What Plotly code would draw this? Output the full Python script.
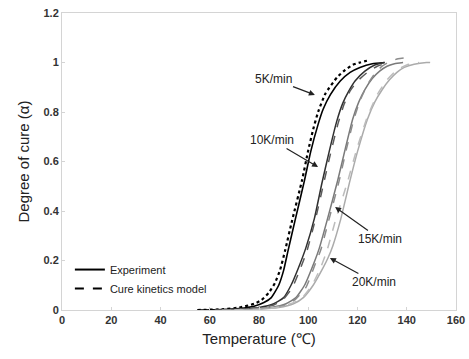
import plotly.graph_objects as go

# ---- data ----
x_5k_exp = [55, 65, 72, 78, 82, 85, 88, 90, 91.8, 94.6, 98.5, 101, 104, 106, 109, 113, 117, 121, 126, 131]
y_5k_exp = [0, 0.002, 0.006, 0.015, 0.03, 0.05, 0.1, 0.16, 0.24, 0.36, 0.525, 0.64, 0.75, 0.81, 0.87, 0.925, 0.96, 0.98, 0.995, 1.0]

x_5k_mod = [55, 65, 72, 78, 81, 84, 86.5, 88.5, 90.6, 93.4, 97.5, 100, 102, 104, 107, 111.7, 115, 118, 121, 125]
y_5k_mod = [0, 0.003, 0.01, 0.025, 0.04, 0.07, 0.11, 0.16, 0.24, 0.36, 0.525, 0.645, 0.73, 0.8, 0.875, 0.94, 0.97, 0.99, 1.0, 1.01]

x_10k_exp = [62, 72, 80, 86, 90, 93, 96, 99, 102.5, 105.5, 108.5, 111.5, 114, 116.5, 119, 123, 127, 131]
y_10k_exp = [0, 0.003, 0.01, 0.025, 0.05, 0.1, 0.17, 0.25, 0.37, 0.51, 0.64, 0.76, 0.835, 0.885, 0.925, 0.965, 0.99, 1.0]

x_10k_mod = [62, 72, 80, 86, 90, 93.5, 96.5, 99.5, 103, 106, 109, 112, 114.5, 117, 120, 124, 128, 131]
y_10k_mod = [0, 0.003, 0.01, 0.02, 0.045, 0.09, 0.16, 0.24, 0.37, 0.5, 0.63, 0.75, 0.83, 0.885, 0.925, 0.96, 0.985, 0.995]

x_15k_exp = [65, 76, 85, 91, 95, 98.5, 102.7, 104.5, 107.6, 112, 115, 118, 120.5, 123, 126, 129, 132, 135, 138.5]
y_15k_exp = [0, 0.003, 0.01, 0.025, 0.05, 0.1, 0.2, 0.25, 0.36, 0.525, 0.65, 0.77, 0.84, 0.89, 0.935, 0.965, 0.985, 0.995, 1.0]

x_15k_mod = [65, 76, 85, 91, 95, 99, 103, 105, 108, 112.5, 115.5, 118.5, 121, 124, 127, 130, 133, 136.5, 140.5]
y_15k_mod = [0, 0.003, 0.01, 0.02, 0.045, 0.09, 0.19, 0.24, 0.35, 0.52, 0.65, 0.77, 0.845, 0.91, 0.955, 0.985, 1.003, 1.015, 1.02]

x_20k_exp = [70, 80, 88, 94, 98, 102, 106, 108, 110, 113, 117, 120, 124, 127, 130, 133, 136, 139, 143, 148, 149.5]
y_20k_exp = [0, 0.003, 0.01, 0.025, 0.05, 0.1, 0.17, 0.21, 0.26, 0.36, 0.525, 0.64, 0.77, 0.84, 0.89, 0.93, 0.96, 0.98, 0.993, 1.0, 1.0]

x_20k_mod = [70, 80, 88, 94, 98, 101.5, 105, 107.6, 111, 116, 120, 124, 128, 132, 136, 140, 145]
y_20k_mod = [0, 0.003, 0.012, 0.03, 0.055, 0.1, 0.17, 0.24, 0.36, 0.52, 0.66, 0.78, 0.87, 0.93, 0.97, 0.99, 1.0]

x_ticks = [0, 20, 40, 60, 80, 100, 120, 140, 160]
y_ticks = [0, 0.2, 0.4, 0.6, 0.8, 1.0, 1.2]
y_tick_text = ["0", "0.2", "0.4", "0.6", "0.8", "1", "1.2"]

rate_labels = ["5K/min", "10K/min", "15K/min", "20K/min"]
label_head_x = [102.7, 104.0, 110.9, 108.8]
label_head_y = [0.869, 0.578, 0.416, 0.21]
label_text_x = [85.7, 85.3, 129.1, 126.7]
label_text_y = [0.933, 0.687, 0.287, 0.113]

FONT = "Arial, Liberation Sans, sans-serif"

fig = go.Figure()

series = [
    (x_5k_exp, y_5k_exp, "#000000", "solid", 1.6),
    (x_5k_mod, y_5k_mod, "#000000", "dot", 2.2),
    (x_10k_exp, y_10k_exp, "#303030", "solid", 1.5),
    (x_10k_mod, y_10k_mod, "#5a5a5a", "dash", 1.5),
    (x_15k_exp, y_15k_exp, "#7a7a7a", "solid", 1.5),
    (x_15k_mod, y_15k_mod, "#8c8c8c", "dash", 1.5),
    (x_20k_exp, y_20k_exp, "#ababab", "solid", 1.5),
    (x_20k_mod, y_20k_mod, "#bcbcbc", "dash", 1.5),
]
for xs, ys, col, dash, w in series:
    fig.add_trace(go.Scatter(x=xs, y=ys, mode="lines", showlegend=False,
                             line=dict(color=col, dash=dash, width=w, shape="spline", smoothing=0.5),
                             hoverinfo="skip"))

# legend entries
fig.add_trace(go.Scatter(x=[None], y=[None], mode="lines", name="Experiment",
                         line=dict(color="black", width=2)))
fig.add_trace(go.Scatter(x=[None], y=[None], mode="lines", name="Cure kinetics model",
                         line=dict(color="black", width=2, dash="dash")))

for t, hx, hy, tx, ty in zip(rate_labels, label_head_x, label_head_y, label_text_x, label_text_y):
    fig.add_annotation(x=hx, y=hy, ax=tx, ay=ty, axref="x", ayref="y", xref="x", yref="y",
                       text=t, showarrow=True, arrowhead=2, arrowsize=1, arrowwidth=1.2,
                       arrowcolor="#222222", font=dict(family=FONT, size=12, color="#222222"),
                       bgcolor="rgba(255,255,255,0.9)")

fig.update_layout(
    width=469, height=359, autosize=False,
    margin=dict(l=62, r=13, t=13, b=49, autoexpand=False),
    paper_bgcolor="white", plot_bgcolor="white",
    font=dict(family=FONT, color="#222222"),
    legend=dict(x=0.02, y=0.185, xanchor="left", yanchor="top",
                bgcolor="rgba(0,0,0,0)", font=dict(family=FONT, size=11, color="#222222"),
                tracegroupgap=0),
    xaxis=dict(range=[0, 160], tickvals=x_ticks, showgrid=False, zeroline=False, automargin=False,
               showline=True, mirror=True, linecolor="#d4d4d4", linewidth=1,
               ticks="inside", ticklen=3, tickcolor="#d4d4d4",
               tickfont=dict(family=FONT, size=11, color="#333333", weight="bold"),
               title=dict(text="Temperature (\u2103)", font=dict(family=FONT, size=15, color="#222222"),
                          standoff=8)),
    yaxis=dict(range=[0, 1.2], tickvals=y_ticks, ticktext=y_tick_text, showgrid=False, zeroline=False,
               automargin=False,
               showline=True, mirror=True, linecolor="#d4d4d4", linewidth=1,
               ticks="inside", ticklen=3, tickcolor="#d4d4d4",
               tickfont=dict(family=FONT, size=11, color="#333333", weight="bold"),
               title=dict(text="Degree of cure (\u03b1)", font=dict(family=FONT, size=15, color="#222222"),
                          standoff=10)),
)

fig.write_html("out.html")
